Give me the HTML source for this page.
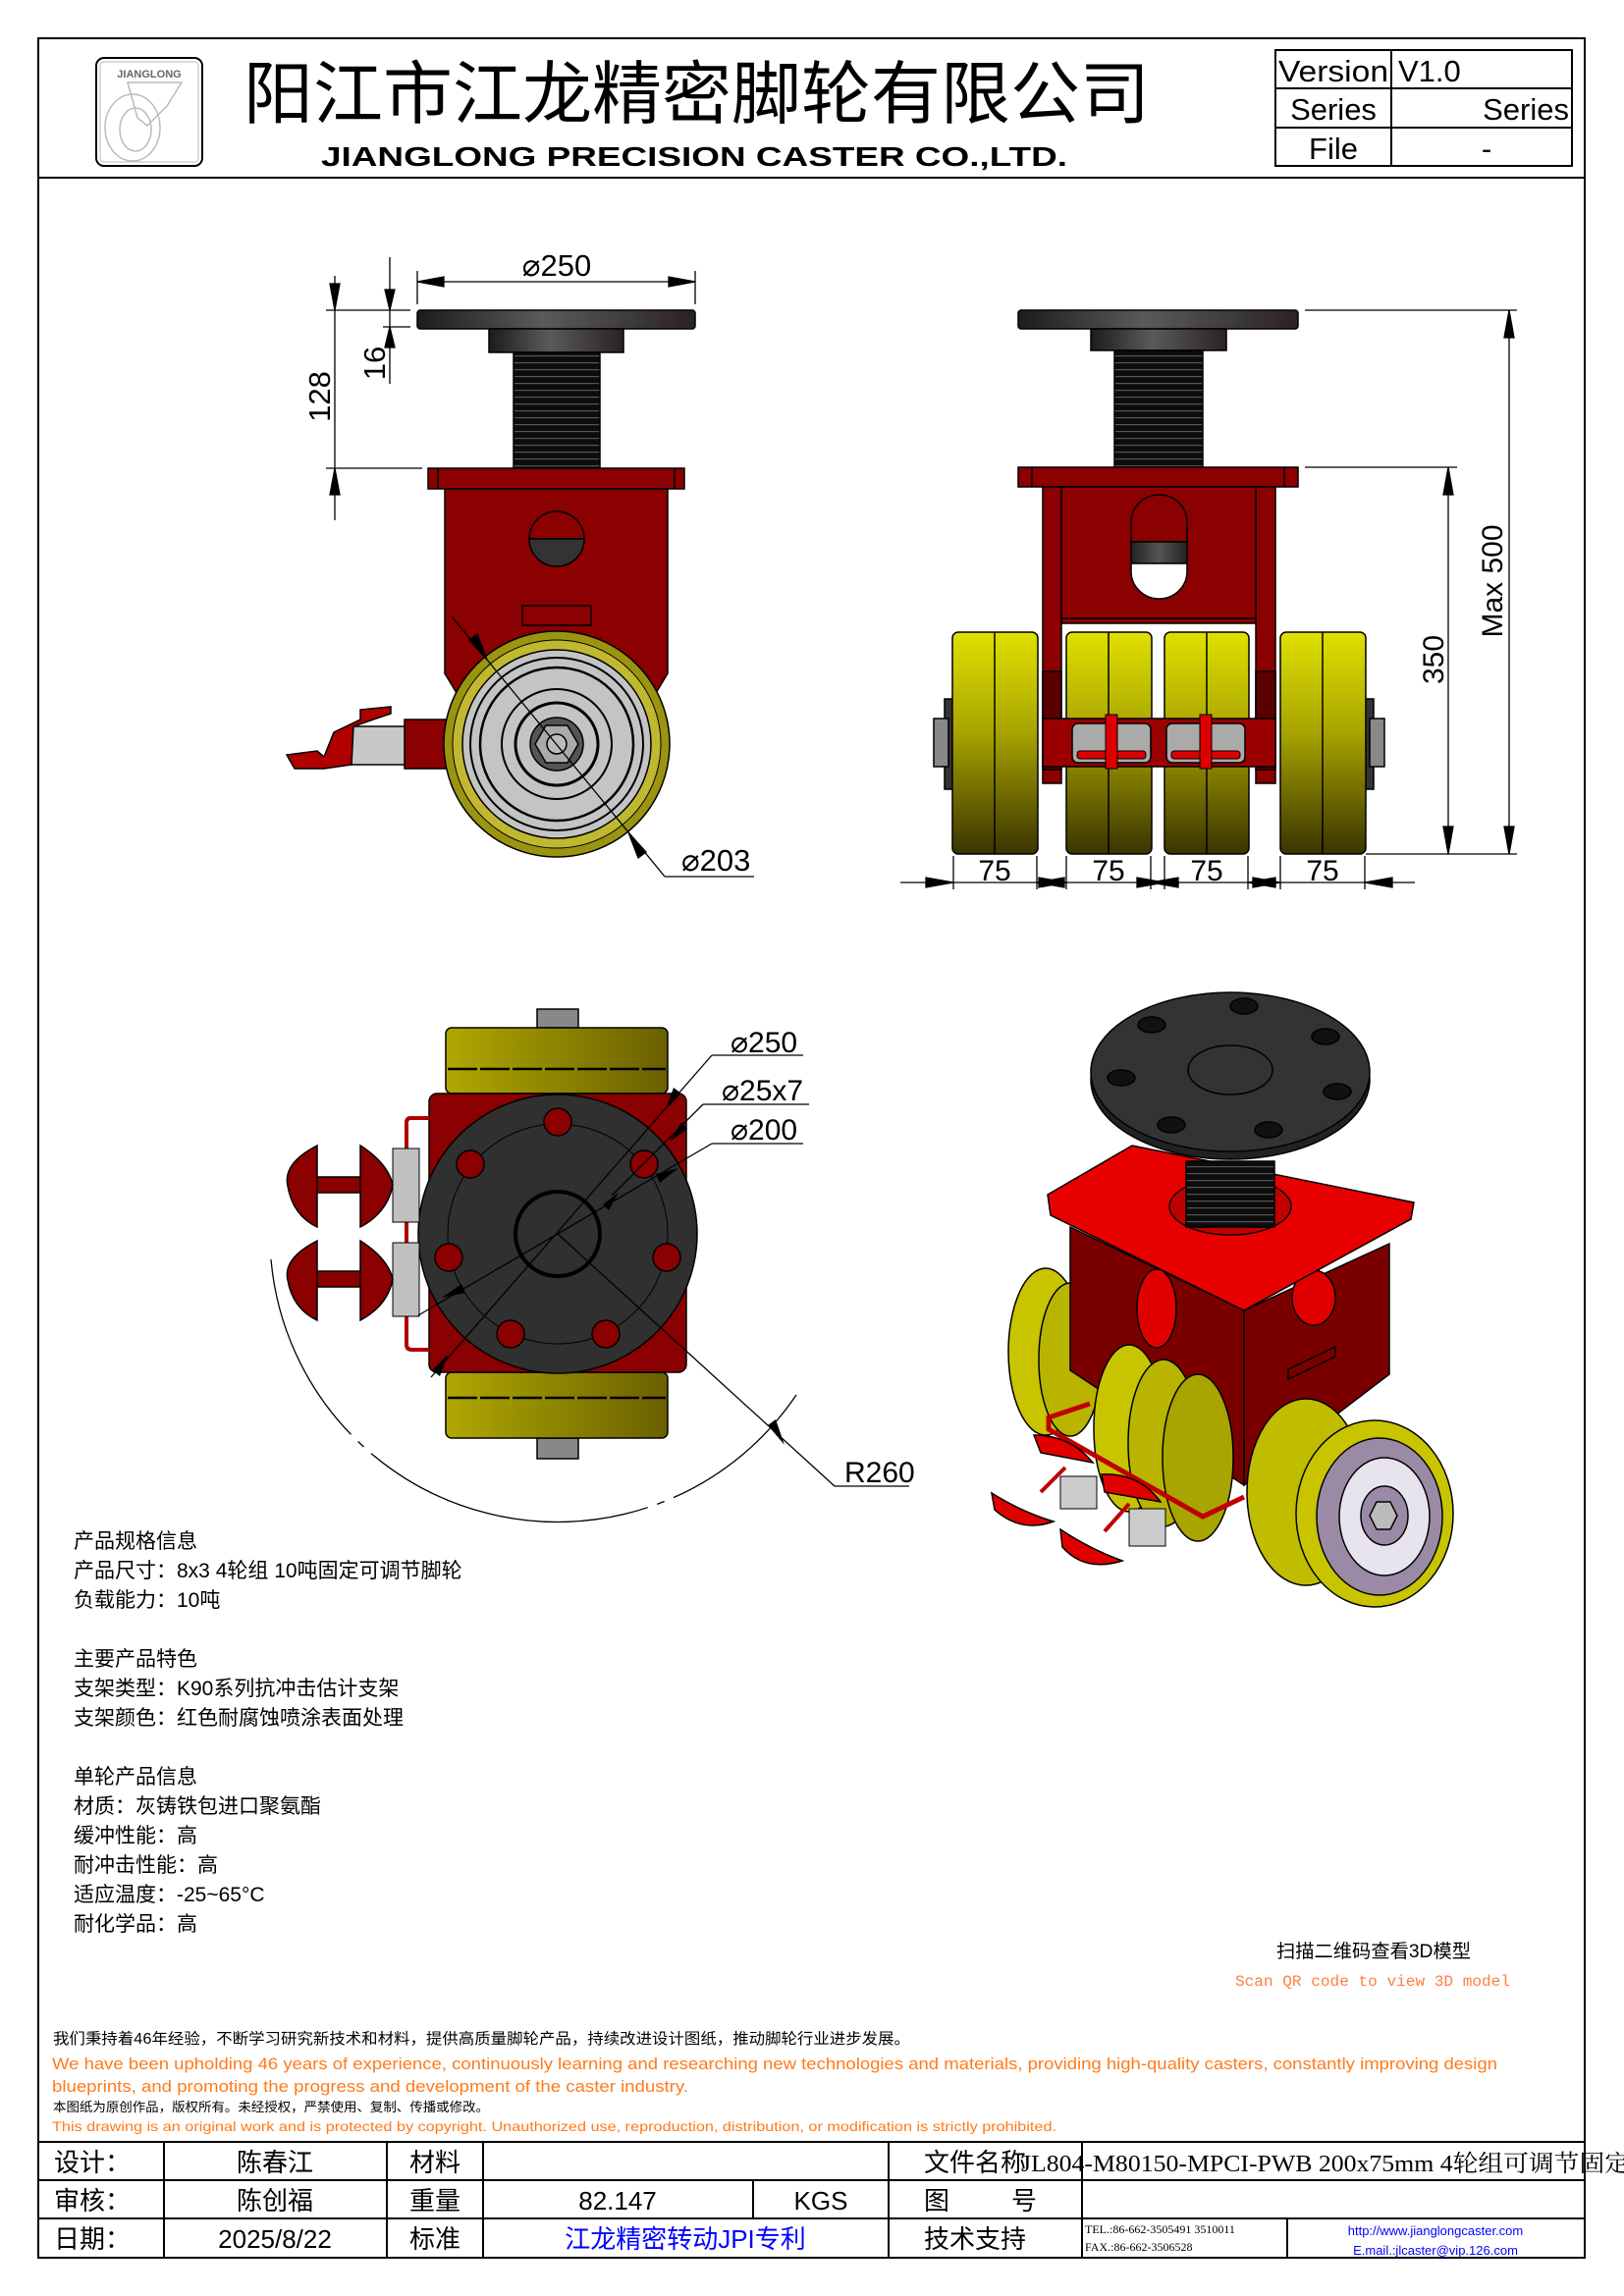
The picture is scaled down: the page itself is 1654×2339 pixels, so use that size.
<!DOCTYPE html>
<html><head><meta charset="utf-8"><style>
html,body{margin:0;padding:0;background:#fff}
svg{display:block}
.s{font-family:"Liberation Sans","Noto Sans CJK SC",sans-serif}
.c{font-family:"Liberation Sans","Noto Sans CJK SC",sans-serif}
</style></head><body>
<svg width="1654" height="2339" viewBox="0 0 1654 2339" xmlns="http://www.w3.org/2000/svg">
<defs>
<linearGradient id="plate" x1="0" x2="1" y1="0" y2="0"><stop offset="0" stop-color="#1c1c1c"/><stop offset="0.45" stop-color="#5a5a5a"/><stop offset="1" stop-color="#2a2228"/></linearGradient>
<linearGradient id="yv" x1="0" x2="0" y1="0" y2="1"><stop offset="0" stop-color="#e0e000"/><stop offset="0.45" stop-color="#a8a400"/><stop offset="1" stop-color="#3a3400"/></linearGradient>
<linearGradient id="yh" x1="0" x2="1" y1="0" y2="0"><stop offset="0" stop-color="#b0a800"/><stop offset="1" stop-color="#6a6000"/></linearGradient>
<linearGradient id="band" x1="0" x2="1"><stop offset="0" stop-color="#222"/><stop offset="0.5" stop-color="#555"/><stop offset="1" stop-color="#222"/></linearGradient>
<pattern id="thr" width="10" height="7" patternUnits="userSpaceOnUse"><rect width="10" height="7" fill="#0c0c0c"/><rect y="5" width="10" height="1.2" fill="#555"/></pattern>
</defs>

<!-- frame -->
<rect x="39" y="39" width="1575" height="2261" fill="none" stroke="#000" stroke-width="2"/>
<line x1="39" y1="181" x2="1614" y2="181" stroke="#000" stroke-width="2"/>

<!-- logo -->
<rect x="98" y="59" width="108" height="110" rx="8" fill="none" stroke="#000" stroke-width="2"/>
<rect x="102" y="63" width="100" height="102" rx="4" fill="none" stroke="#bbb" stroke-width="1"/>
<text x="152" y="79" text-anchor="middle" class="s" font-size="11" font-weight="bold" fill="#666">JIANGLONG</text>
<g fill="none" stroke="#bbb" stroke-width="1.5">
<ellipse cx="135" cy="130" rx="28" ry="34"/><ellipse cx="138" cy="132" rx="16" ry="22"/><polygon points="130,84 185,84 180,92 170,108 150,128 140,120"/>
</g>

<!-- title -->
<text x="248" y="120" class="c" font-size="70" textLength="923" lengthAdjust="spacingAndGlyphs">阳江市江龙精密脚轮有限公司</text>
<text x="327" y="169" class="s" font-size="28" font-weight="bold" textLength="760" lengthAdjust="spacingAndGlyphs">JIANGLONG PRECISION CASTER CO.,LTD.</text>

<!-- version table -->
<g stroke="#000" stroke-width="2" fill="none">
<rect x="1299" y="51" width="302" height="118"/>
<line x1="1299" y1="90" x2="1601" y2="90"/><line x1="1299" y1="130" x2="1601" y2="130"/>
<line x1="1417" y1="51" x2="1417" y2="169"/>
</g>
<g class="s" font-size="31">
<text x="1302" y="83" textLength="112" lengthAdjust="spacingAndGlyphs">Version</text>
<text x="1424" y="83">V1.0</text>
<text x="1358" y="122" text-anchor="middle">Series</text>
<text x="1598" y="122" text-anchor="end">Series</text>
<text x="1358" y="162" text-anchor="middle">File</text>
<text x="1514" y="162" text-anchor="middle">-</text>
</g>

<!-- ===== LEFT SIDE VIEW ===== -->
<g stroke="#000" stroke-width="1.5">
<rect x="425" y="316" width="283" height="19" rx="3" fill="url(#plate)"/>
<rect x="498" y="335" width="137" height="24" fill="url(#plate)"/>
<rect x="523" y="359" width="88" height="118" fill="url(#thr)"/>
<rect x="436" y="477" width="261" height="21" fill="#8b0000"/>
<line x1="446" y1="477" x2="446" y2="498"/><line x1="687" y1="477" x2="687" y2="498"/>
<path d="M453,498 L680,498 L680,686 L668,706 L465,706 L453,686 Z" fill="#8b0000"/>
<path d="M539,549 A28,28 0 0 1 595,549 Z" fill="#8b0000"/>
<path d="M539,549 A28,28 0 0 0 595,549 Z" fill="#333"/>
<rect x="532" y="617" width="70" height="20" fill="#8b0000"/>
<!-- brake -->
<rect x="412" y="733" width="43" height="50" fill="#8b0000"/>
<rect x="358" y="740" width="54" height="39" fill="#c8c8c8"/>
<polygon points="292,769 323,765 330,771 340,746 367,733 367,723 398,720 398,727 380,733 360,740 358,779 330,783 300,783" fill="#b00000"/>
<!-- wheel -->
<circle cx="567" cy="758" r="115" fill="#9a9410"/>
<circle cx="567" cy="758" r="106" fill="#c0b830" stroke-width="1"/>
<circle cx="567" cy="758" r="96" fill="#c4c4c4"/>
<circle cx="567" cy="758" r="88" fill="none" stroke-width="2"/>
<circle cx="567" cy="758" r="78" fill="none" stroke-width="2.5"/>
<circle cx="567" cy="758" r="56" fill="none" stroke-width="2"/>
<circle cx="567" cy="758" r="42" fill="none" stroke-width="3"/>
<circle cx="567" cy="758" r="27" fill="#555"/>
<polygon points="589,758 578,777 556,777 545,758 556,739 578,739" fill="#aaa"/>
<circle cx="567" cy="758" r="10" fill="#bbb"/>
</g>
<!-- left view dims -->
<g stroke="#000" stroke-width="1.3" fill="#000">
<line x1="425" y1="276" x2="425" y2="310"/><line x1="708" y1="276" x2="708" y2="310"/>
<line x1="425" y1="287" x2="708" y2="287"/>
<polygon points="425,287 452,282 452,292"/><polygon points="708,287 681,282 681,292"/>
<line x1="332" y1="316" x2="418" y2="316"/><line x1="390" y1="333" x2="418" y2="333"/><line x1="332" y1="477" x2="430" y2="477"/>
<line x1="341" y1="281" x2="341" y2="530"/>
<polygon points="341,316 336,289 346,289"/><polygon points="341,477 336,504 346,504"/>
<line x1="397" y1="262" x2="397" y2="391"/>
<polygon points="397,316 392,295 402,295"/><polygon points="397,333 392,354 402,354"/>
<line x1="460" y1="628" x2="677" y2="893"/><line x1="677" y1="893" x2="768" y2="893"/>
<polygon points="496,672 478,652 486,646" /><polygon points="640,848 658,868 650,874"/>
</g>
<g class="s" font-size="31">
<text x="567" y="281" text-anchor="middle">⌀250</text>
<text transform="translate(336,404) rotate(-90)" text-anchor="middle">128</text>
<text transform="translate(392,370) rotate(-90)" text-anchor="middle">16</text>
<text x="694" y="887">⌀203</text>
</g>

<!-- ===== FRONT VIEW ===== -->
<g stroke="#000" stroke-width="1.5">
<rect x="1037" y="316" width="285" height="19" rx="3" fill="url(#plate)"/>
<rect x="1111" y="335" width="138" height="22" fill="url(#plate)"/>
<rect x="1135" y="357" width="90" height="119" fill="url(#thr)"/>
<rect x="1037" y="476" width="285" height="20" fill="#8b0000"/>
<line x1="1051" y1="476" x2="1051" y2="496"/><line x1="1308" y1="476" x2="1308" y2="496"/>
<rect x="1062" y="496" width="19" height="302" fill="#8b0000"/>
<rect x="1279" y="496" width="20" height="302" fill="#8b0000"/>
<rect x="1081" y="496" width="198" height="134" fill="#8b0000"/>
<rect x="1081" y="630" width="198" height="5" fill="#8b0000"/>
<path d="M1152,552 L1152,532 A28.5,28 0 0 1 1209,532 L1209,552 Z" fill="#8b0000"/>
<rect x="1152" y="552" width="57" height="22" fill="url(#band)"/>
<path d="M1152,574 L1152,582 A28.5,28 0 0 0 1209,582 L1209,574 Z" fill="#fff"/>
<rect x="1062" y="684" width="19" height="100" fill="#5a0000"/>
<rect x="1279" y="684" width="20" height="100" fill="#5a0000"/>
<rect x="962" y="712" width="10" height="92" fill="#333"/>
<rect x="1389" y="712" width="10" height="92" fill="#333"/>
<rect x="951" y="732" width="15" height="49" fill="#888"/>
<rect x="1395" y="732" width="15" height="49" fill="#888"/>
<rect x="970" y="644" width="87" height="226" rx="6" fill="url(#yv)"/>
<rect x="1086" y="644" width="87" height="226" rx="6" fill="url(#yv)"/>
<rect x="1186" y="644" width="86" height="226" rx="6" fill="url(#yv)"/>
<rect x="1304" y="644" width="87" height="226" rx="6" fill="url(#yv)"/>
<line x1="1013" y1="644" x2="1013" y2="870"/><line x1="1129" y1="644" x2="1129" y2="870"/><line x1="1229" y1="644" x2="1229" y2="870"/><line x1="1347" y1="644" x2="1347" y2="870"/>
<rect x="1062" y="732" width="237" height="49" fill="#9a0000"/>
<rect x="1092" y="737" width="80" height="40" rx="6" fill="#aaa"/>
<rect x="1188" y="737" width="80" height="40" rx="6" fill="#aaa"/>
<rect x="1097" y="765" width="70" height="8" rx="3" fill="#d00" stroke-width="1"/>
<rect x="1193" y="765" width="70" height="8" rx="3" fill="#d00" stroke-width="1"/>
<rect x="1126" y="728" width="12" height="55" fill="#d00" stroke-width="1"/>
<rect x="1222" y="728" width="12" height="55" fill="#d00" stroke-width="1"/>
</g>
<g stroke="#000" stroke-width="1.3" fill="#000">
<line x1="1329" y1="316" x2="1545" y2="316"/><line x1="1329" y1="476" x2="1484" y2="476"/><line x1="1391" y1="870" x2="1545" y2="870"/>
<line x1="1537" y1="316" x2="1537" y2="870"/>
<polygon points="1537,316 1532,344 1542,344"/><polygon points="1537,870 1532,842 1542,842"/>
<line x1="1475" y1="476" x2="1475" y2="870"/>
<polygon points="1475,476 1470,504 1480,504"/><polygon points="1475,870 1470,842 1480,842"/>
<line x1="917" y1="899" x2="1441" y2="899"/>
<line x1="971" y1="872" x2="971" y2="906"/><line x1="1056" y1="872" x2="1056" y2="906"/><line x1="1086" y1="872" x2="1086" y2="906"/><line x1="1172" y1="872" x2="1172" y2="906"/><line x1="1186" y1="872" x2="1186" y2="906"/><line x1="1271" y1="872" x2="1271" y2="906"/><line x1="1304" y1="872" x2="1304" y2="906"/><line x1="1390" y1="872" x2="1390" y2="906"/>
<polygon points="971,899 943,894 943,904"/><polygon points="1056,899 1084,894 1084,904"/><polygon points="1086,899 1058,894 1058,904"/>
<polygon points="1172,899 1200,894 1200,904"/><polygon points="1186,899 1158,894 1158,904"/><polygon points="1271,899 1299,894 1299,904"/>
<polygon points="1304,899 1276,894 1276,904"/><polygon points="1390,899 1418,894 1418,904"/>
</g>
<g class="s" font-size="30">
<text x="1013" y="897" text-anchor="middle">75</text><text x="1129" y="897" text-anchor="middle">75</text><text x="1229" y="897" text-anchor="middle">75</text><text x="1347" y="897" text-anchor="middle">75</text>
<text transform="translate(1470,672) rotate(-90)" text-anchor="middle">350</text>
<text transform="translate(1530,592) rotate(-90)" text-anchor="middle">Max 500</text>
</g>

<!-- ===== TOP VIEW ===== -->
<g stroke="#000" stroke-width="1.5">
<rect x="547" y="1028" width="42" height="19" fill="#888"/>
<rect x="547" y="1465" width="42" height="21" fill="#888"/>
<rect x="454" y="1047" width="226" height="67" rx="6" fill="url(#yh)"/>
<rect x="454" y="1398" width="226" height="67" rx="6" fill="url(#yh)"/>
<line x1="456" y1="1089" x2="678" y2="1089" stroke-width="2.5" stroke-dasharray="30,3"/>
<line x1="456" y1="1424" x2="678" y2="1424" stroke-width="2.5" stroke-dasharray="30,3"/>
<rect x="437" y="1114" width="262" height="284" rx="8" fill="#8b0000"/>
<circle cx="568" cy="1257" r="142" fill="#303030"/>
<circle cx="568" cy="1257" r="112" fill="none" stroke-width="1"/>
<g fill="#8b0000">
<ellipse cx="568" cy="1143" rx="14" ry="14"/><ellipse cx="479" cy="1186" rx="14" ry="14"/><ellipse cx="656" cy="1186" rx="14" ry="14"/>
<ellipse cx="457" cy="1281" rx="14" ry="14"/><ellipse cx="679" cy="1281" rx="14" ry="14"/><ellipse cx="520" cy="1359" rx="14" ry="14"/><ellipse cx="617" cy="1359" rx="14" ry="14"/>
</g>
<circle cx="568" cy="1257" r="43" fill="none" stroke-width="4"/>
<path d="M437,1139 L418,1139 Q414,1139 414,1144 L414,1370 Q414,1375 420,1375 L437,1375" fill="none" stroke="#b00000" stroke-width="4"/>
<rect x="400" y="1170" width="27" height="75" fill="#c0c0c0" stroke-width="1"/>
<rect x="400" y="1266" width="27" height="75" fill="#c0c0c0" stroke-width="1"/>
<path d="M323,1167 Q288,1185 293,1208 Q298,1238 323,1250 Z" fill="#8b0000"/>
<path d="M367,1167 Q395,1185 400,1207 Q395,1235 367,1250 Z" fill="#8b0000"/>
<rect x="323" y="1199" width="44" height="16" fill="#8b0000"/>
<path d="M323,1264 Q288,1282 293,1304 Q298,1333 323,1345 Z" fill="#8b0000"/>
<path d="M367,1264 Q395,1282 400,1303 Q395,1330 367,1345 Z" fill="#8b0000"/>
<rect x="323" y="1295" width="44" height="16" fill="#8b0000"/>
</g>
<g stroke="#000" stroke-width="1.3" fill="none">
<path d="M276,1283 A293,293 0 0 0 811,1421" stroke-dasharray="200,10,8,10,300,10,8,10"/>
<line x1="568" y1="1257" x2="850" y2="1514"/><line x1="850" y1="1514" x2="926" y2="1514"/>
<line x1="439" y1="1403" x2="725" y2="1075"/><line x1="725" y1="1075" x2="818" y2="1075"/>
<line x1="623" y1="1218" x2="716" y2="1125"/><line x1="716" y1="1125" x2="824" y2="1125"/>
<line x1="426" y1="1340" x2="725" y2="1165"/><line x1="725" y1="1165" x2="818" y2="1165"/>
</g>
<g fill="#000">
<polygon points="799,1472 782,1452 790,1446"/>
<polygon points="678,1130 686,1108 694,1114"/><polygon points="456,1380 448,1402 440,1396"/>
<polygon points="682,1163 694,1143 700,1150"/><polygon points="630,1215 620,1233 614,1227"/>
<polygon points="691,1190 672,1205 668,1196"/><polygon points="450,1322 470,1308 474,1317"/>
</g>
<g class="s" font-size="30">
<text x="744" y="1072">⌀250</text>
<text x="735" y="1121">⌀25x7</text>
<text x="744" y="1161">⌀200</text>
<text x="860" y="1510">R260</text>
</g>

<!-- ===== ISO VIEW ===== -->
<g stroke="#000" stroke-width="1.5">
<ellipse cx="1065" cy="1377" rx="38" ry="85" fill="#c8c400"/>
<ellipse cx="1090" cy="1385" rx="32" ry="78" fill="#b8b400"/>
<polygon points="1090,1250 1267,1335 1267,1513 1090,1396" fill="#7a0000"/>
<polygon points="1267,1335 1415,1267 1415,1400 1267,1513" fill="#7a0000"/>
<ellipse cx="1178" cy="1333" rx="20" ry="40" fill="#e00000"/>
<ellipse cx="1338" cy="1322" rx="22" ry="28" fill="#e00000"/>
<polygon points="1312,1395 1360,1372 1360,1382 1312,1405" fill="none"/>
<ellipse cx="1150" cy="1455" rx="36" ry="85" fill="#c8c400"/>
<ellipse cx="1185" cy="1470" rx="36" ry="85" fill="#b8b400"/>
<ellipse cx="1220" cy="1485" rx="36" ry="85" fill="#a8a400"/>
<ellipse cx="1330" cy="1520" rx="60" ry="95" fill="#c0bc00"/>
<ellipse cx="1400" cy="1542" rx="80" ry="95" fill="#c8c400"/>
<ellipse cx="1405" cy="1545" rx="64" ry="80" fill="#9a8aa6"/>
<ellipse cx="1410" cy="1545" rx="46" ry="60" fill="#e8e4ee"/>
<ellipse cx="1410" cy="1544" rx="24" ry="30" fill="#9a8aa6"/>
<polygon points="1423,1544 1416,1558 1402,1558 1395,1544 1402,1530 1416,1530" fill="#bbb"/>
<polygon points="1067,1217 1153,1167 1440,1225 1437,1242 1267,1335 1070,1238" fill="#e80000"/>
<ellipse cx="1253" cy="1229" rx="62" ry="29" fill="#c00000"/>
<rect x="1208" y="1183" width="90" height="67" fill="url(#thr)"/>
<ellipse cx="1253" cy="1100" rx="142" ry="81" fill="#222"/>
<ellipse cx="1253" cy="1092" rx="142" ry="81" fill="#333"/>
<ellipse cx="1253" cy="1090" rx="43" ry="25" fill="#333"/>
<g fill="#111"><ellipse cx="1173" cy="1044" rx="14" ry="8"/><ellipse cx="1267" cy="1025" rx="14" ry="8"/><ellipse cx="1350" cy="1056" rx="14" ry="8"/><ellipse cx="1142" cy="1098" rx="14" ry="8"/><ellipse cx="1362" cy="1112" rx="14" ry="8"/><ellipse cx="1193" cy="1146" rx="14" ry="8"/><ellipse cx="1292" cy="1151" rx="14" ry="8"/></g>
<path d="M1110,1430 L1068,1444 L1068,1456 L1225,1545 L1267,1525" fill="none" stroke="#c00000" stroke-width="5"/>
<rect x="1080" y="1504" width="37" height="33" fill="#ccc" stroke-width="1"/>
<rect x="1150" y="1537" width="37" height="38" fill="#ccc" stroke-width="1"/>
<path d="M1053,1462 Q1090,1462 1113,1490 L1060,1480 Z" fill="#e00000"/>
<path d="M1122,1502 Q1160,1500 1182,1530 L1125,1520 Z" fill="#e00000"/>
<path d="M1010,1521 Q1040,1540 1073,1550 Q1040,1562 1013,1538 Z" fill="#e00000"/>
<path d="M1080,1558 Q1110,1578 1143,1590 Q1105,1602 1082,1576 Z" fill="#e00000"/>
<line x1="1060" y1="1520" x2="1085" y2="1495" stroke="#c00000" stroke-width="4"/>
<line x1="1125" y1="1560" x2="1150" y2="1532" stroke="#c00000" stroke-width="4"/>
</g>

<!-- spec text -->
<g class="c" font-size="21">
<text x="75" y="1577">产品规格信息</text>
<text x="75" y="1607">产品尺寸：8x3 4轮组 10吨固定可调节脚轮</text>
<text x="75" y="1637">负载能力：10吨</text>
<text x="75" y="1697">主要产品特色</text>
<text x="75" y="1727">支架类型：K90系列抗冲击估计支架</text>
<text x="75" y="1757">支架颜色：红色耐腐蚀喷涂表面处理</text>
<text x="75" y="1817">单轮产品信息</text>
<text x="75" y="1847">材质：灰铸铁包进口聚氨酯</text>
<text x="75" y="1877">缓冲性能：高</text>
<text x="75" y="1907">耐冲击性能：高</text>
<text x="75" y="1937">适应温度：-25~65°C</text>
<text x="75" y="1967">耐化学品：高</text>
</g>
<text x="1300" y="1994" class="c" font-size="19" textLength="198" lengthAdjust="spacingAndGlyphs">扫描二维码查看3D模型</text>
<text x="1258" y="2023" font-family="Liberation Mono,monospace" font-size="15.5" fill="#ff7f40" textLength="280" lengthAdjust="spacingAndGlyphs">Scan QR code to view 3D model</text>

<!-- footer statement -->
<text x="54" y="2082" class="c" font-size="15.5" textLength="873" lengthAdjust="spacingAndGlyphs">我们秉持着46年经验，不断学习研究新技术和材料，提供高质量脚轮产品，持续改进设计图纸，推动脚轮行业进步发展。</text>
<text x="53" y="2108" class="s" font-size="16.5" fill="#ff7a1a" textLength="1472" lengthAdjust="spacingAndGlyphs">We have been upholding 46 years of experience, continuously learning and researching new technologies and materials, providing high-quality casters, constantly improving design</text>
<text x="53" y="2131" class="s" font-size="16.5" fill="#ff7a1a" textLength="648" lengthAdjust="spacingAndGlyphs">blueprints, and promoting the progress and development of the caster industry.</text>
<text x="54" y="2151" class="c" font-size="13" textLength="444" lengthAdjust="spacingAndGlyphs">本图纸为原创作品，版权所有。未经授权，严禁使用、复制、传播或修改。</text>
<text x="53" y="2171" class="s" font-size="14" fill="#ff7a1a" textLength="1023" lengthAdjust="spacingAndGlyphs">This drawing is an original work and is protected by copyright. Unauthorized use, reproduction, distribution, or modification is strictly prohibited.</text>

<!-- bottom table -->
<g stroke="#000" stroke-width="2" fill="none">
<line x1="39" y1="2182" x2="1614" y2="2182"/><line x1="39" y1="2221" x2="1614" y2="2221"/><line x1="39" y1="2260" x2="1614" y2="2260"/><line x1="39" y1="2300" x2="1614" y2="2300"/>
<line x1="167" y1="2182" x2="167" y2="2300"/><line x1="394" y1="2182" x2="394" y2="2300"/><line x1="492" y1="2182" x2="492" y2="2300"/>
<line x1="767" y1="2221" x2="767" y2="2260"/><line x1="905" y1="2182" x2="905" y2="2300"/><line x1="1102" y1="2182" x2="1102" y2="2300"/><line x1="1311" y1="2260" x2="1311" y2="2300"/>
</g>
<g class="c" font-size="26">
<text x="55" y="2212">设计：</text><text x="55" y="2251">审核：</text><text x="55" y="2290">日期：</text>
<text x="280" y="2212" text-anchor="middle">陈春江</text><text x="280" y="2251" text-anchor="middle">陈创福</text><text x="280" y="2290" text-anchor="middle">2025/8/22</text>
<text x="443" y="2212" text-anchor="middle">材料</text><text x="443" y="2251" text-anchor="middle">重量</text><text x="443" y="2290" text-anchor="middle">标准</text>
<text x="629" y="2251" text-anchor="middle">82.147</text><text x="836" y="2251" text-anchor="middle">KGS</text>
<text x="698" y="2290" text-anchor="middle" fill="#0000ff">江龙精密转动JPI专利</text>
<text x="941" y="2212">文件名称</text><text x="941" y="2251">图</text><text x="1030" y="2251">号</text><text x="941" y="2290">技术支持</text>
</g>
<text x="1040" y="2212" font-family="Liberation Serif,Noto Serif CJK SC,serif" font-size="24" textLength="620" lengthAdjust="spacingAndGlyphs">JL804-M80150-MPCI-PWB 200x75mm 4轮组可调节固定</text>
<g font-family="Liberation Serif,serif" font-size="12">
<text x="1105" y="2275">TEL.:86-662-3505491 3510011</text>
<text x="1105" y="2293">FAX.:86-662-3506528</text>
</g>
<g class="s" font-size="13" fill="#0000ff" text-anchor="middle">
<text x="1462" y="2277">http://www.jianglongcaster.com</text>
<text x="1462" y="2297">E.mail.:jlcaster@vip.126.com</text>
</g>
</svg>
</body></html>
